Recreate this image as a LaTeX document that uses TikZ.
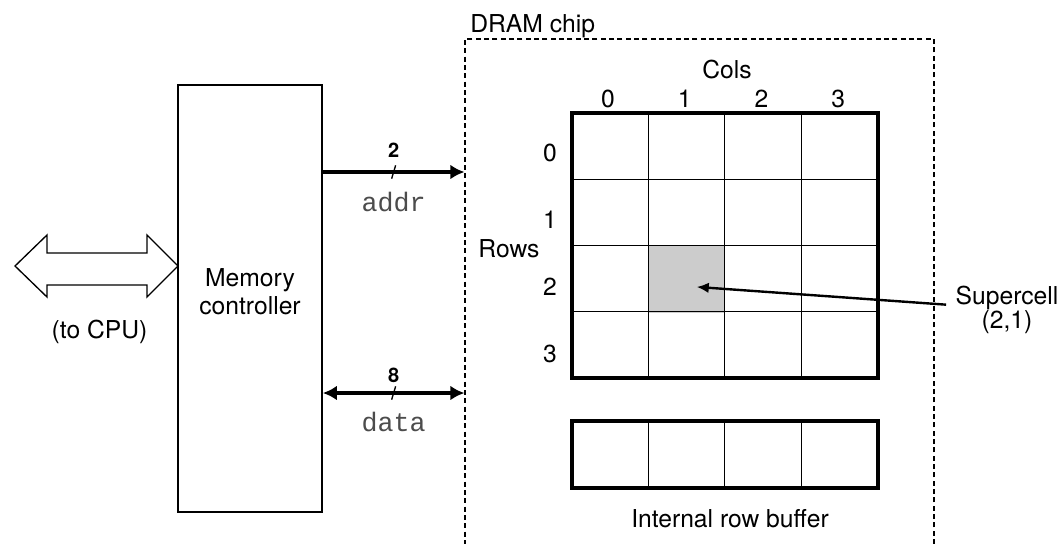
\documentclass[tikz,border=0pt]{standalone}
\usepackage{fontspec}
\setmainfont{TeX Gyre Heros}
\setmonofont{Liberation Mono}
\usetikzlibrary{positioning,arrows.meta}

\begin{document}
\begin{tikzpicture}[x=0.75pt,y=-0.75pt]
      \tikzset{txt/.style={font=\fontsize{18.5}{21}\selectfont}}
      \tikzset{width/.style={font=\fontsize{15}{17}\selectfont\bfseries,inner sep=0pt}}
      \tikzset{signal/.style={font=\fontsize{20}{22}\ttfamily,text=black!70,inner sep=0pt}}
      \tikzset{box/.style={rectangle,draw,line width=1.2pt,inner sep=0pt}}
      \tikzset{array/.style={rectangle,draw,line width=3pt,inner sep=0pt}}
      \tikzset{cell/.style={rectangle,inner sep=0pt,minimum width=57.4pt,minimum height=49.7pt}}
      \tikzset{bus/.style={line width=3pt}}
      \tikzset{tick/.style={line width=1pt}}
      \tikzset{>={Latex[length=10.5pt,width=11pt]}}

      \useasboundingbox (0,0) rectangle (1062,543);

      % chip outline
      \node[box,line width=0.8pt,dash pattern=on 3.75pt off 2.5pt,
            minimum width=351.75pt,minimum height=420.75pt] (chip) at (699.5,319.5) {};
      \node[txt,anchor=base west,inner sep=0pt] (chiplbl) at (470,32.5) {DRAM chip};

      % memory controller
      \node[box,minimum width=108pt,minimum height=320.25pt] (mc) at (250,298.5) {};
      \node[txt,align=center,inner sep=0pt] (mclbl) at (250,291.5) {Memory\\controller};

      % to the CPU
      \draw[line width=1pt,line join=miter]
        (15,266) -- (47,235) -- (47,253) -- (147,253) -- (147,235) -- (178,266)
        -- (147,297) -- (147,285) -- (47,285) -- (47,297) -- cycle;
      \node[txt,inner sep=0pt] (cpulbl) at (99.5,332) {(to CPU)};

      % DRAM array
      \node[cell,fill=gray!40] (super) at (686.75,279.6) {};
      \foreach \x in {648.2,724.7,801.2}
        \draw[tick] (\x,113) -- (\x,378);
      \foreach \y in {179.25,245.5,311.75}
        \draw[tick] (572,\y) -- (878,\y);
      \node[array,minimum width=229.5pt,minimum height=198.75pt] (dram) at (725,245.5) {};

      \node[txt,anchor=base] (cols) at (727,78) {Cols};
      \foreach \c in {0,...,3}
        \node[txt,anchor=base] (col\c) at ({608+76.7*\c},107) {\c};
      \node[txt,anchor=base] (rows) at (509,257) {Rows};
      \foreach \r in {0,...,3}
        \node[txt,anchor=base] (row\r) at (550,{161+67*\r}) {\r};

      % row buffer
      \foreach \x in {648.2,724.7,801.2}
        \draw[tick] (\x,421) -- (\x,488);
      \node[array,minimum width=229.5pt,minimum height=50.25pt] (buf) at (725,454.5) {};
      \node[txt,inner sep=0pt] (buflbl) at (730,519) {Internal row buffer};

      % supercell
      \node[txt,font=\fontsize{18.5}{16.5}\selectfont,align=center,inner sep=0pt] (sclbl) at (1007,310) {Supercell\\(2,1)};
      \draw[line width=1.8pt,-{Latex[length=9pt,width=8pt]}]
        ([xshift=-7pt,yshift=4pt]sclbl.west) -- ([xshift=7.5pt,yshift=-5.5pt]super.center);

      % buses
      \coordinate (addry) at (0,172);
      \coordinate (datay) at (0,393);
      \draw[bus,->] (mc.east |- addry) -- coordinate (addrmid) (chip.west |- addry);
      \draw[bus,<->] (mc.east |- datay) -- coordinate (datamid) (chip.west |- datay);
      \draw[tick] ([xshift=-1.5pt,yshift=-5pt]addrmid) -- ([xshift=1.5pt,yshift=5pt]addrmid);
      \draw[tick] ([xshift=-1.5pt,yshift=-5pt]datamid) -- ([xshift=1.5pt,yshift=5pt]datamid);
      \node[width] (addrw) at ([yshift=16.5pt]addrmid) {2};
      \node[width] (dataw) at ([yshift=13.5pt]datamid) {8};
      \node[signal] (addrlbl) at ([yshift=-22.5pt]addrmid) {addr};
      \node[signal] (datalbl) at ([yshift=-21.75pt]datamid) {data};
\end{tikzpicture}
\end{document}
